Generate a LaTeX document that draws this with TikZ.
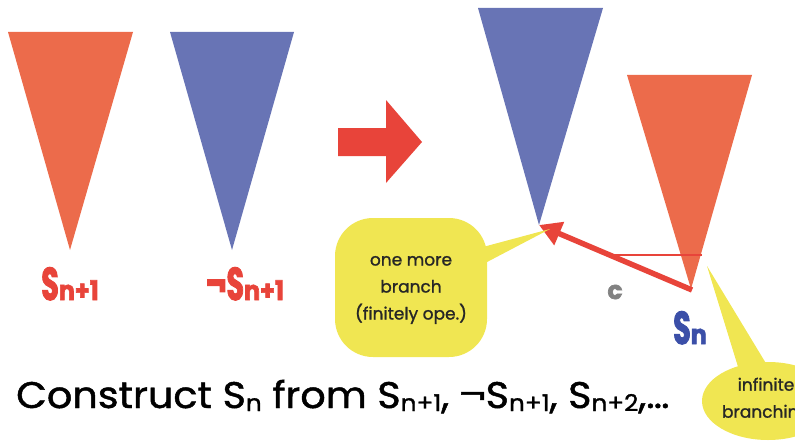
\documentclass[tikz,border=0pt]{standalone}
\usepackage{fontspec}
\usepackage{graphicx}
\setmainfont{Poppins}
\newfontfamily\capfont{Poppins}[FakeBold=1.2]
\newfontfamily\heavyfont{Poppins}[BoldFeatures={FakeBold=2.5}]
\usetikzlibrary{arrows.meta}

\definecolor{treeorange}{RGB}{236,107,75}
\definecolor{treeblue}{RGB}{104,116,181}
\definecolor{arrowred}{RGB}{232,68,58}
\definecolor{noteyellow}{RGB}{240,230,82}
\definecolor{labelblue}{RGB}{59,79,168}
\definecolor{cgray}{RGB}{130,130,130}

% lowered, smaller index after a letter
\newcommand\lowidx[2]{\raisebox{-#1}{#2}}
% condensed heavy tree label: letter part, index part
\newcommand\treename[2]{%
  \scalebox{0.62}[1]{\fontsize{46}{46}\heavyfont\bfseries #1}%
  \scalebox{0.88}[1]{\fontsize{27}{27}\heavyfont\bfseries #2}}

\tikzset{
  treelabel/.style={inner sep=0pt, anchor=base},
  notetext/.style={font=\fontsize{17}{27}\capfont, align=center, text=black!85},
}

\begin{document}
\begin{tikzpicture}[x=1pt,y=-1pt]
\path[use as bounding box] (0,0) rectangle (795,444);

% the two subtrees on the left
\fill[treeorange] (8,32) -- (133,32) -- (70,250) -- cycle;
\fill[treeblue] (170,32) -- (294,32) -- (232,250) -- cycle;

\node[treelabel, text=arrowred] (lsn) at (70,300) {\treename{S}{n+1}};
\node[treelabel, text=arrowred] (lnsn) at (245,300) {\treename{¬S}{n+1}};

% big block arrow
\fill[arrowred] (338,128) -- (386,128) -- (386,100) -- (422,142)
  -- (386,183) -- (386,156) -- (338,156) -- cycle;

% the combined tree on the right
\fill[treeblue] (478,8) -- (603,8) -- (539,225) -- cycle;
\fill[treeorange] (627,75) -- (752,75) -- (691,289) -- cycle;
\coordinate (blueapex) at (539,225);
\coordinate (orangeapex) at (692,290);
\coordinate (hleft) at (612,255);
\coordinate (hright) at (702,255);

\draw[arrowred, line width=2pt] (hleft) -- (hright);
\draw[arrowred, line width=5.5pt,
  -{Triangle[length=22pt,width=24pt]}] (orangeapex) -- (blueapex);

\node[font=\fontsize{25}{25}\heavyfont\bfseries, text=cgray] (c) at (615,292) {c};
\node[treelabel, text=labelblue] (sn) at (690,344) {\treename{S}{n}};

% callout on the new branch
\fill[noteyellow] (468,251) -- (550,229) -- (468,272) -- cycle;
\fill[noteyellow, rounded corners=38pt] (335,218) rectangle (487,357);
\node[notetext] (note1) at (411,290) {one more\\branch\\(finitely ope.)};

% callout on the infinite branching
\fill[noteyellow] (739,370) -- (707,266) -- (770,370) -- cycle;
\fill[noteyellow] (768,401) ellipse [x radius=66, y radius=39];
\node[notetext] (note2) at (766,400) {infinite\\branching};

% caption
\node[anchor=base west, inner sep=0pt, text=black] (caption) at (16,408)
  {\scalebox{1.075}[1]{\fontsize{37}{37}\capfont
   Construct S\lowidx{3pt}{\fontsize{23}{23}\capfont n} from
   S\lowidx{3pt}{\fontsize{23}{23}\capfont n+1}, ¬S\lowidx{3pt}{\fontsize{23}{23}\capfont n+1},
   S\lowidx{3pt}{\fontsize{23}{23}\capfont n+2},…}};
\end{tikzpicture}
\end{document}
